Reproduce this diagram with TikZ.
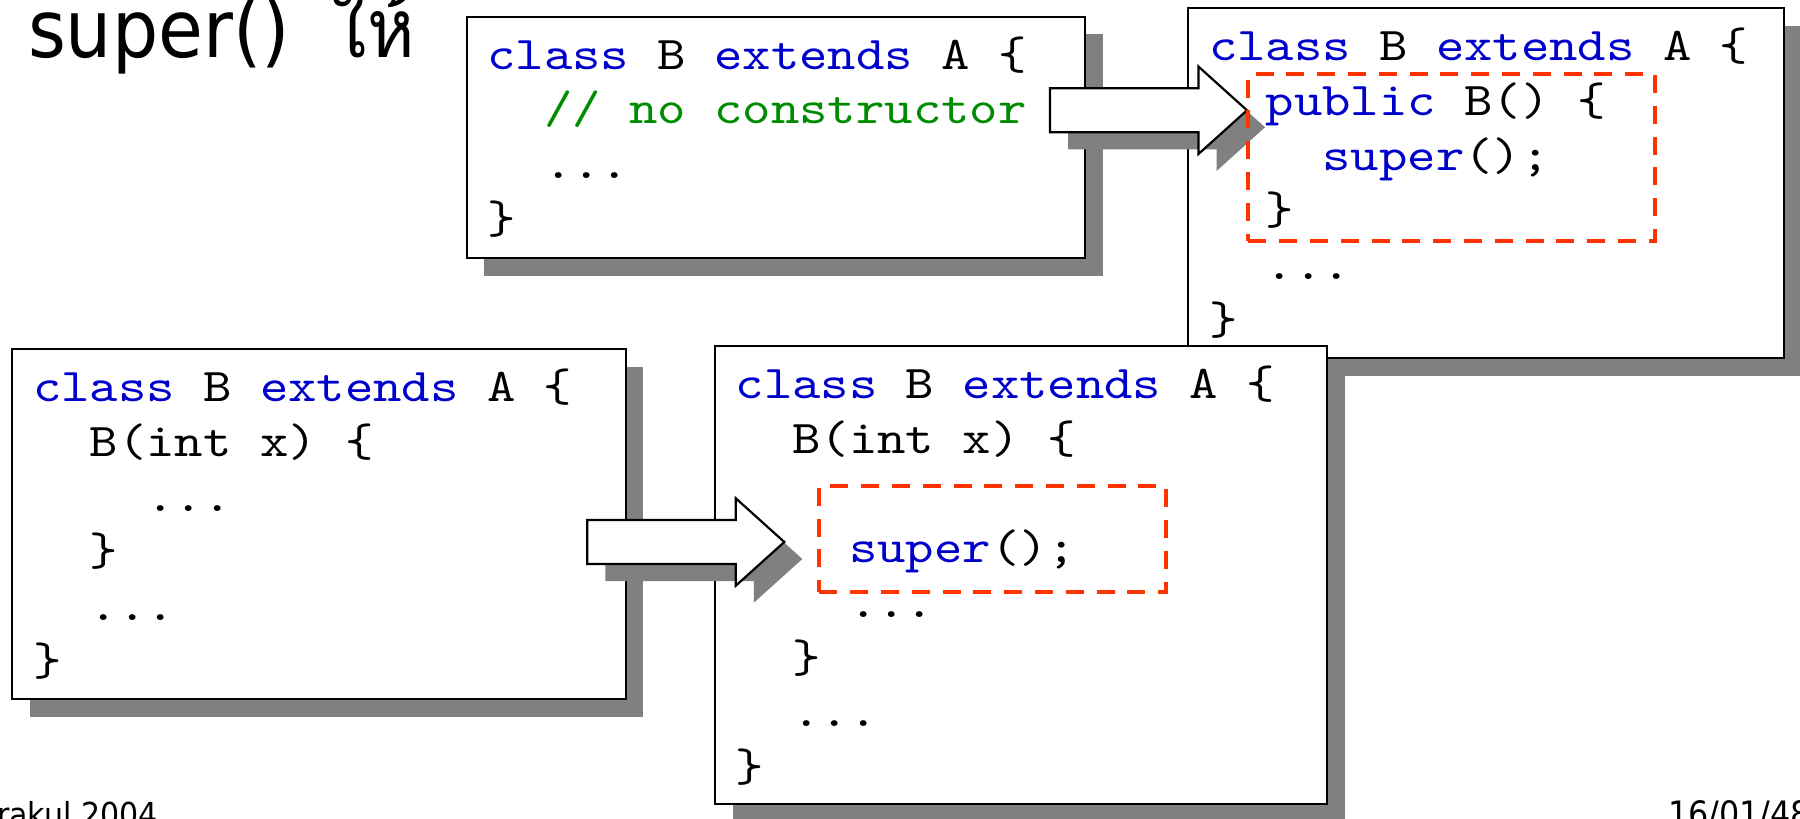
\documentclass[tikz,border=0pt]{standalone}
\usepackage{fontspec}
\usetikzlibrary{fit,calc,shadows}
% fonts: typewriter code, sans title/footer, Thai
\newfontfamily\codefont[FakeStretch=1.15]{lmmono10-regular.otf}
\newfontfamily\titlesans[FakeStretch=0.91]{DejaVu Sans}
\newfontfamily\thaifont[Script=Thai, FakeStretch=0.88]{Loma}
\definecolor{kwblue}{RGB}{0,0,204}
\definecolor{cmgreen}{RGB}{0,140,0}
\definecolor{hlred}{RGB}{255,51,0}
\definecolor{shadowgray}{RGB}{128,128,128}
\newcommand\kw[1]{\textcolor{kwblue}{#1}}
\newcommand\cm[1]{\textcolor{cmgreen}{#1}}
\newcommand\cindtwo{\hphantom{xx}}
\newcommand\cindfour{\hphantom{xxxx}}
\newcommand\elide{...}
% one node per source line, stacked below the box's top-left corner
\newcommand\codeblock[2]{%
  \foreach \cl [count=\k from 0] in {#2}{%
    \node[codeline] (#1-l\k) at ($(#1.north west)+(20.7,{52.5+54.7*\k})$) {\cl};
  }}
\tikzset{
  codebox/.style={draw=black, line width=1.1pt, fill=white, inner sep=0pt, outer sep=0pt,
    drop shadow={shadow xshift=8.75pt, shadow yshift=-8.75pt, opacity=1, fill=shadowgray}},
  codeline/.style={anchor=base west, inner sep=0pt, outer sep=0pt,
    font=\codefont\fontsize{23.5pt}{23.5pt}\selectfont},
  hlbox/.style={draw=hlred, line width=2pt, dash pattern=on 9pt off 6.4pt, inner sep=0pt, outer sep=0pt},
  sanstext/.style={inner sep=0pt, outer sep=0pt},
  blockarrow/.pic={
    \begin{scope}[shift={(18,17)}]
      \fill[shadowgray] (0,-22) -- (148.5,-22) -- (148.5,-43.7) -- (197,0)
        -- (148.5,43.7) -- (148.5,22) -- (0,22) -- cycle;
    \end{scope}
    \filldraw[fill=white, draw=black, line width=1.1pt] (0,-22) -- (148.5,-22) -- (148.5,-43.7)
      -- (197,0) -- (148.5,43.7) -- (148.5,22) -- (0,22) -- cycle;
  }
}
\begin{document}
\begin{tikzpicture}[x=0.5pt, y=-0.5pt]
  \fill[white] (0,0) rectangle (1800,819);
  \useasboundingbox (0,0) rectangle (1800,819);

  % heading and footers
  \node[sanstext, anchor=base west, font=\titlesans\fontsize{40pt}{40pt}\selectfont]
    (title) at (28,57) {super()\hspace*{21pt}{\thaifont\fontsize{41pt}{41pt}\selectfont ให้}};
  \node[sanstext, anchor=base west, font=\titlesans\fontsize{16.5pt}{16.5pt}\selectfont]
    (footleft) at (-3,826.5) {rakul 2004};
  \node[sanstext, anchor=base west, font=\titlesans\fontsize{17.5pt}{17.5pt}\selectfont]
    (footright) at (1668,826.5) {16/01/48};

  % class without a constructor
  \node[codebox, fit={(466.7,16.7) (1085,258.3)}] (b1) {};
  \codeblock{b1}{{\kw{class} B \kw{extends} A \{},
    {\cindtwo\cm{// no constructor}},
    {\cindtwo\elide},
    {\}}}

  % default constructor inserted by the compiler
  \node[codebox, fit={(1188.3,8.3) (1784,358.3)}] (b2) {};
  \codeblock{b2}{{\kw{class} B \kw{extends} A \{},
    {\cindtwo\kw{public} B() \{},
    {\cindfour\kw{super}();},
    {\cindtwo\}},
    {\cindtwo\elide},
    {\}}}

  % constructor without an explicit super call
  \node[codebox, fit={(12.3,349.3) (625.7,699)}] (b3) {};
  \codeblock{b3}{{\kw{class} B \kw{extends} A \{},
    {\cindtwo B(int x) \{},
    {\cindfour\elide},
    {\cindtwo\}},
    {\cindtwo\elide},
    {\}}}

  % super() inserted at the start of the constructor
  \node[codebox, fit={(715,346) (1327.3,803.6)}] (b4) {};
  \codeblock{b4}{{\kw{class} B \kw{extends} A \{},
    {\cindtwo B(int x) \{},
    {},
    {\cindfour\kw{super}();},
    {\cindfour\elide},
    {\cindtwo\}},
    {\cindtwo\elide},
    {\}}}

  % block arrows
  \pic at (1050,110.3) {blockarrow};
  \pic at (587.3,542) {blockarrow};

  % highlighted inserted code
  \node[hlbox, fit={(1248.3,74) (1655,240.7)}] (h1) {};
  \node[hlbox, fit={(819.3,486) (1166,591.7)}] (h2) {};
\end{tikzpicture}
\end{document}
